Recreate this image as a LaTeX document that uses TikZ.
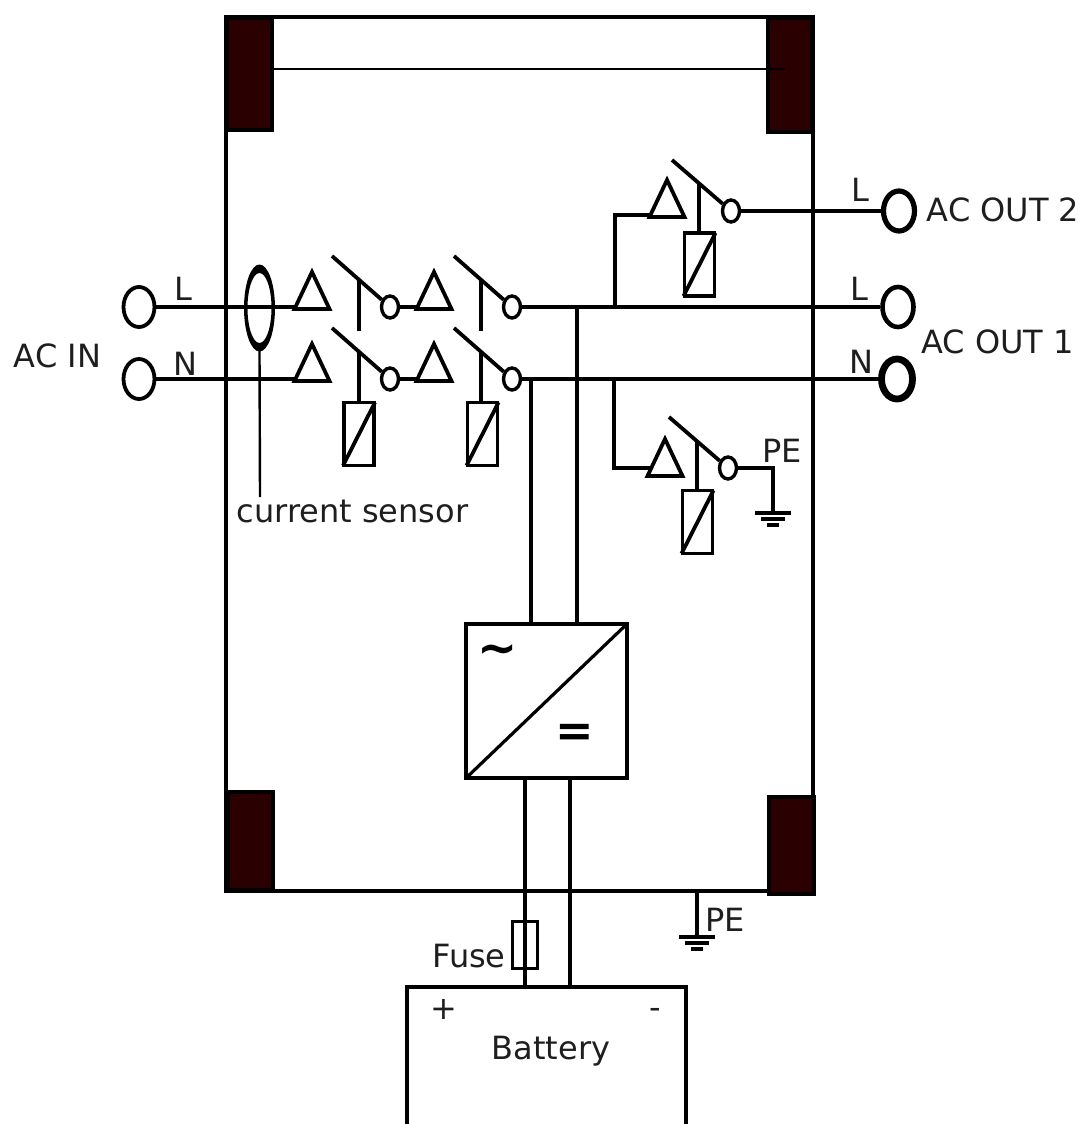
\documentclass[tikz,border=0pt]{standalone}
\usepackage{fontspec}
\setmainfont{DejaVu Sans}
\usetikzlibrary{shapes.geometric,calc}
\definecolor{blockfill}{HTML}{2A0000}
\definecolor{labelink}{HTML}{1E1E1E}
\tikzset{
  wire/.style={line width=3.8pt,line cap=butt,line join=miter},
  thinwire/.style={line width=2.4pt},
  terminal/.style={ellipse,draw,line width=#1,inner sep=0pt,minimum width=31pt,minimum height=40pt,fill=white},
  terminal/.default=3.8pt,
  contact/.style={ellipse,draw,line width=3.4pt,inner sep=0pt,minimum width=17pt,minimum height=22pt,fill=white},
  coil/.style={rectangle,draw,line width=3.8pt,inner sep=0pt,minimum width=30pt,minimum height=63pt},
  block/.style={draw=black,line width=3.5pt,fill=blockfill},
  lbl/.style={font=\fontsize{32}{36}\selectfont,text=labelink,inner sep=0pt}
}
\newcommand{\relaytri}[3]{%
  \coordinate (#1) at (#2,#3);
  \draw[wire] (#1) ++(-17.5,1) -- ++(35,0) -- ++(-17.5,-37) -- cycle;}
\newcommand{\coildiag}[1]{\draw[wire,shorten >=2pt,shorten <=2pt] (#1.south west) -- (#1.north east);}
\newcommand{\earth}[1]{%
  \draw[line width=3.2pt] ($(#1)+(-18,0)$) -- ($(#1)+(18,0)$);
  \draw[line width=3.2pt] ($(#1)+(-12,6)$) -- ($(#1)+(12,6)$);
  \draw[line width=3.2pt] ($(#1)+(-6,12)$) -- ($(#1)+(6,12)$);}
\begin{document}
\begin{tikzpicture}[x=1pt,y=-1pt]
\useasboundingbox (0,0) rectangle (1085,1124);
\fill[white] (0,0) rectangle (1085,1124);

% enclosure
\draw[line width=3.8pt] (226,17) rectangle (813,891);
\draw[block] (227,18) rectangle (272,130);
\draw[block] (768,18) rectangle (812,132);
\draw[block] (228,792) rectangle (273,890);
\draw[block] (769,797) rectangle (814,894);
\coordinate (railL) at (272,69);
\coordinate (railR) at (785,69);
\draw[line width=2.8pt] (railL) -- (railR);

% terminals
\node[terminal] (inL) at (139,307) {};
\node[terminal] (inN) at (139,379) {};
\node[terminal=5.2pt] (out2) at (899,211) {};
\node[terminal=4.6pt] (outL) at (898,307) {};
\node[terminal=6.8pt] (outN) at (897,379) {};

% current sensor
\node[ellipse,inner sep=0pt,minimum width=31pt,minimum height=86pt] (sensor) at (259.5,308) {};

% first and second relay pair
\relaytri{tA}{312}{308}
\relaytri{tB}{312}{380}
\relaytri{tC}{434}{308}
\relaytri{tD}{434}{380}
\node[contact] (cA) at (390,307) {};
\node[contact] (cB) at (390,379) {};
\node[contact] (cC) at (512,307) {};
\node[contact] (cD) at (512,379) {};
\coordinate (bA) at (332,256);
\coordinate (bB) at (332,328);
\coordinate (bC) at (454,256);
\coordinate (bD) at (454,328);
\draw[wire] (bA) -- (cA);
\draw[wire] (bB) -- (cB);
\draw[wire] (bC) -- (cC);
\draw[wire] (bD) -- (cD);
\node[coil] (coilB) at (359,434) {};
\node[coil] (coilD) at (482.5,434) {};
\coildiag{coilB}
\coildiag{coilD}
\coordinate (sA) at (359,280);
\coordinate (eA) at (359,331);
\coordinate (sB) at (359,352);
\coordinate (sC) at (481,280);
\coordinate (eC) at (481,331);
\coordinate (sD) at (481,352);
\draw[wire] (sA) -- (eA);
\draw[wire] (sB) -- (coilB.north);
\draw[wire] (sC) -- (eC);
\draw[wire] (sD) -- (sD |- coilD.north);

% line wires
\coordinate (tAin) at (296,307);
\coordinate (tBin) at (296,379);
\coordinate (tCin) at (418,307);
\coordinate (tDin) at (418,379);
\draw[wire] (inL.east) -- (tAin);
\draw[wire] (inN.east) -- (tBin);
\draw[wire] (cA) -- (tCin);
\draw[wire] (cB) -- (tDin);
\draw[wire] (cC.east) -- (outL.west);
\draw[wire] (cD.east) -- (outN.west);
\fill[even odd rule] (259.5,308) ellipse [x radius=15.5,y radius=43.5] (259.5,308) ellipse [x radius=12,y radius=35];

% upper output relay
\coordinate (teeU) at (615,307);
\relaytri{tU}{667}{216}
\coordinate (cornerU) at (615,215);
\coordinate (tUin) at (651,215);
\draw[wire] (teeU) -- (cornerU) -- (tUin);
\node[contact] (cU) at (731,211) {};
\coordinate (bU) at (672,160);
\draw[wire] (bU) -- (cU);
\node[coil] (coilU) at (699.5,264.5) {};
\coildiag{coilU}
\coordinate (sU) at (699,184);
\draw[wire] (sU) -- (sU |- coilU.north);
\draw[wire] (cU.east) -- (out2.west);

% lower output relay
\coordinate (teeP) at (614,379);
\relaytri{tP}{665}{475}
\coordinate (cornerP) at (614,468);
\coordinate (tPin) at (652,468);
\draw[wire] (teeP) -- (cornerP) -- (tPin);
\node[contact] (cP) at (728,468) {};
\coordinate (bP) at (669,417);
\draw[wire] (bP) -- (cP);
\node[coil] (coilP) at (697.5,522) {};
\coildiag{coilP}
\coordinate (sP) at (697,442);
\draw[wire] (sP) -- (sP |- coilP.north);
\coordinate (cornerE) at (773,468);
\coordinate (earthA) at (773,513);
\draw[wire] (cP.east) -- (cornerE) -- (earthA);
\earth{earthA}

% converter
\node[rectangle,draw,line width=3.4pt,inner sep=0pt,minimum width=161pt,minimum height=154pt] (conv) at (546.5,701) {};
\draw[line width=3.2pt,shorten >=1.5pt,shorten <=1.5pt] (conv.south west) -- (conv.north east);
\coordinate (busN) at (531,379);
\coordinate (busL) at (577,307);
\draw[wire] (busN) -- (busN |- conv.north);
\draw[line width=4.2pt] (busL) -- (busL |- conv.north);
\node[font=\fontsize{48}{48}\selectfont\bfseries,text=black,inner sep=0pt] (acsign) at (497.5,655) {\char`\~};
\node[font=\fontsize{46}{46}\selectfont\bfseries,text=black,inner sep=0pt] (dcsign) at (575,735) {=};

% battery and fuse
\node[rectangle,inner sep=0pt,minimum width=279pt,minimum height=137pt] (bat) at (546.5,1055.5) {};
\draw[line width=3.8pt] (bat.south west) -- (bat.north west) -- (bat.north east) -- (bat.south east);
\coordinate (dcP) at (525,778);
\coordinate (dcN) at (570,778);
\draw[line width=4.4pt] (dcP) -- (dcP |- bat.north);
\draw[wire] (dcN) -- (dcN |- bat.north);
\node[rectangle,draw,line width=3.4pt,inner sep=0pt,minimum width=25pt,minimum height=47pt] (fuse) at (525,945) {};

% PE on enclosure
\coordinate (peTop) at (697,891);
\coordinate (earthB) at (697,937);
\draw[wire] (peTop) -- (earthB);
\earth{earthB}

% sensor lead
\coordinate (senseEnd) at (260,497);
\draw[thinwire] (sensor.south) -- (senseEnd);

% labels
\node[lbl] (lInL) at (183,289) {L};
\node[lbl] (lInN) at (185,364) {N};
\node[lbl] (lAcIn) at (57.5,356) {AC IN};
\node[lbl] (lSense) at (352.5,511) {current sensor};
\node[lbl] (lOut2L) at (860,190) {L};
\node[lbl] (lOut1L) at (859,289) {L};
\node[lbl] (lOutN) at (861,362) {N};
\node[lbl] (lOut2) at (1003,210) {AC OUT 2};
\node[lbl] (lOut1) at (997.5,342) {AC OUT 1};
\node[lbl] (lPEa) at (782,451) {PE};
\node[lbl] (lPEb) at (725,920) {PE};
\node[lbl] (lFuse) at (469,956) {Fuse};
\node[lbl] (lPlus) at (443.5,1009) {+};
\node[lbl] (lMinus) at (655,1013) {-};
\node[lbl] (lBat) at (551,1051) {Battery};
\end{tikzpicture}
\end{document}
